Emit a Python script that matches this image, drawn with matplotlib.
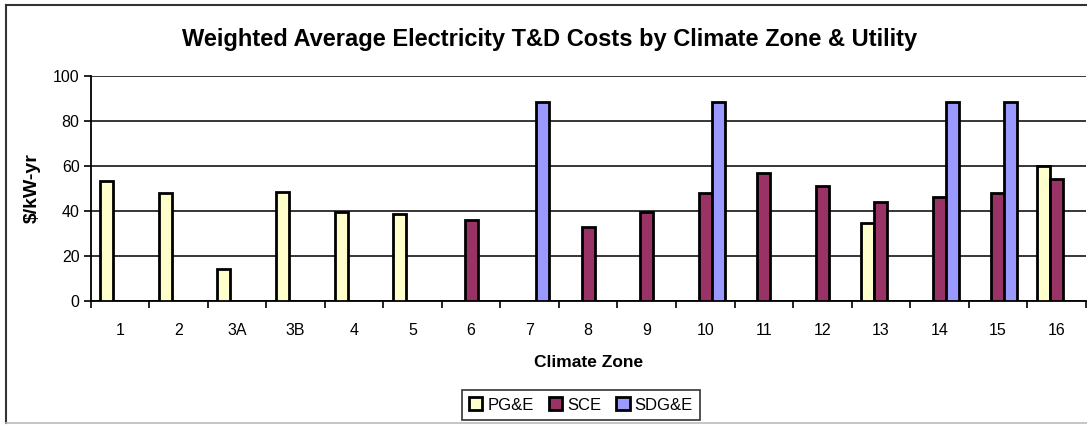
import matplotlib
matplotlib.use("Agg")
import matplotlib.pyplot as plt
import numpy as np
from matplotlib.lines import Line2D

zones = ["1", "2", "3A", "3B", "4", "5", "6", "7", "8", "9",
         "10", "11", "12", "13", "14", "15", "16"]
# None = utility does not serve this zone
pge = [53.4, 47.8, 14, 48.5, 39.6, 38.6, None, None, None, None, None, None, None, 34.5, None, None, 60.2]
sce = [None, None, None, None, None, None, 35.8, None, 33, 39.4, 47.8, 57.1, 51, 43.8, 46.3, 47.8, 54.1]
sdge = [None, None, None, None, None, None, None, 88.5, None, None, 88.5, None, None, None, 88.5, 88.5, None]
series = ["PG&E", "SCE", "SDG&E"]
colors = ["#FFFFCC", "#993366", "#9999FF"]

plt.rcParams['font.family'] = ['Liberation Sans', 'DejaVu Sans']

fig = plt.figure(figsize=(10.87, 4.25), dpi=100)
ax = fig.add_axes([0.0834, 0.2918, 0.9154, 0.5294])

x = np.arange(len(zones))
w = 1 / 4.5
for i, (vals, name, c) in enumerate(zip([pge, sce, sdge], series, colors)):
    vals = np.array([np.nan if v is None else v for v in vals])
    ax.bar(x + (i - 1) * w, vals, width=w, color=c, edgecolor="black",
           linewidth=2.0, label=name, zorder=3)

ax.set_xlim(-0.5, len(zones) - 0.5)
ax.set_ylim(0, 100)
ax.set_yticks(np.arange(0, 101, 20))
ax.set_xticks(x)
ax.set_xticklabels(zones)
ax.set_xticks(np.arange(-0.5, len(zones), 1), minor=True)
ax.tick_params(axis="x", which="major", length=0, pad=16, labelsize=11.5)
ax.tick_params(axis="x", which="minor", length=5, width=1.2, direction="out")
ax.tick_params(axis="y", length=5, width=1.2, labelsize=11.5, pad=3)
ax.grid(axis="y", color="black", linewidth=1.1, zorder=0)
for s in ["top", "right"]:
    ax.spines[s].set_visible(False)
for s in ["left", "bottom"]:
    ax.spines[s].set_linewidth(1.3)

ax.set_xlabel("Climate Zone", fontweight="bold", fontsize=12.5, labelpad=12)
ax.set_ylabel("$/kW-yr", fontweight="bold", fontsize=14, labelpad=9)

fig.text(0.506, 0.906, "Weighted Average Electricity T&D Costs by Climate Zone & Utility",
         ha="center", va="center", fontweight="bold", fontsize=17)

leg = fig.legend(loc="center", bbox_to_anchor=(0.5345, 0.047), ncol=3, frameon=True,
                 fancybox=False, edgecolor="black", fontsize=12,
                 handlelength=0.8, handleheight=0.8, handletextpad=0.3,
                 columnspacing=0.9, borderpad=0.45, borderaxespad=0)
leg.get_frame().set_linewidth(1.2)
for h in leg.legend_handles:
    h.set_linewidth(2)

# chart area border
fig.add_artist(Line2D([6 / 1087, 6 / 1087], [1 - 5 / 425, 1 - 423 / 425],
                      transform=fig.transFigure, color="#333333", linewidth=1.5))
fig.add_artist(Line2D([6 / 1087, 1.0], [1 - 5 / 425, 1 - 5 / 425],
                      transform=fig.transFigure, color="#333333", linewidth=1.5))
fig.add_artist(Line2D([6 / 1087, 1.0], [1 - 423 / 425, 1 - 423 / 425],
                      transform=fig.transFigure, color="#bbbbbb", linewidth=1.2))

fig.savefig("out.png", dpi=100)
